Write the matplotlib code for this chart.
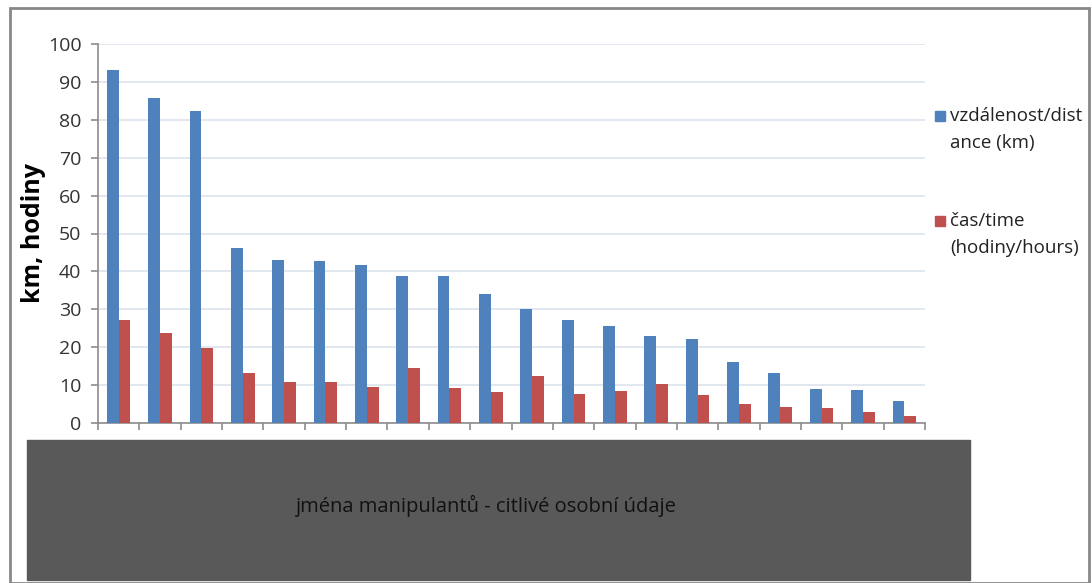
import numpy as np
import matplotlib.pyplot as plt
from matplotlib.patches import Rectangle

plt.rcParams['font.family'] = ['Open Sans', 'DejaVu Sans']

# distance (km) and time (hours) per person, sorted by distance
distance_km = [93.1, 85.7, 82.3, 46.1, 43.0, 42.7, 41.8, 38.9, 38.7, 34.1,
               30.0, 27.1, 25.5, 22.9, 22.1, 16.2, 13.2, 9.0, 8.6, 5.7]
time_h = [27.2, 23.7, 19.7, 13.3, 10.9, 10.9, 9.6, 14.6, 9.3, 8.2,
          12.4, 7.6, 8.4, 10.3, 7.3, 4.9, 4.1, 3.9, 2.8, 1.8]
series_labels = ['vzdálenost/dist\nance (km)', 'čas/time\n(hodiny/hours)']
series_colors = ['#4f81bd', '#c0504d']
y_label = 'km, hodiny'
hidden_names = 'jména manipulantů - citlivé osobní údaje'

W, H = 1092, 583
fig = plt.figure(figsize=(W / 100, H / 100), dpi=100)

def fx(px):
    return px / W

def fy(py):
    return 1 - py / H

ax = fig.add_axes([fx(98), fy(423), fx(925) - fx(98), fy(44) - fy(423)])

n = len(distance_km)
x = np.arange(n)
bw = 1 / 3.5
ax.bar(x - bw / 2, distance_km, bw, color=series_colors[0], zorder=3)
ax.bar(x + bw / 2, time_h, bw, color=series_colors[1], zorder=3)

ax.set_xlim(-0.5, n - 0.5)
ax.set_ylim(0, 100)
ax.set_yticks(np.arange(0, 101, 10))
ax.set_xticks(np.arange(n + 1) - 0.5)
ax.set_xticklabels([])
ax.yaxis.grid(True, color='#dce4ee', linewidth=1.2, zorder=0)
for s in ['top', 'right']:
    ax.spines[s].set_visible(False)
for s in ['left', 'bottom']:
    ax.spines[s].set_color('#8c8c8c')
    ax.spines[s].set_linewidth(1.2)
ax.tick_params(axis='both', colors='#8c8c8c', length=5, width=1.2,
               labelcolor='#333333', labelsize=14)
ax.tick_params(axis='y', pad=7)
ax.tick_params(axis='x', direction='out')

fig.text(fx(33), fy(233), y_label, rotation=90, ha='center', va='center',
         fontsize=18, fontweight='bold', color='black')

# legend drawn as squares + two-line labels
for i, (lab, col) in enumerate(zip(series_labels, series_colors)):
    ty = 116 + i * 105
    fig.patches.append(Rectangle((fx(935), fy(ty + 5)), fx(10), fy(ty - 5) - fy(ty + 5),
                                 transform=fig.transFigure, color=col))
    fig.text(fx(950), fy(ty - 9), lab, ha='left', va='top', fontsize=13.5,
             color='#222222', linespacing=1.65)

# grey box covering the names
fig.patches.append(Rectangle((fx(27), fy(580)), fx(970) - fx(27), fy(440) - fy(580),
                             transform=fig.transFigure, color='#595959',
                             edgecolor='#9a9a9a', linewidth=1))
fig.text(fx(486), fy(506), hidden_names, ha='center', va='center',
         fontsize=14.5, color='#111111')

# outer frame
fig.patches.append(Rectangle((fx(10), fy(583)), fx(1089) - fx(10), fy(8) - fy(583),
                             transform=fig.transFigure, fill=False,
                             edgecolor='#888888', linewidth=2))

fig.savefig('out.png', dpi=100)
